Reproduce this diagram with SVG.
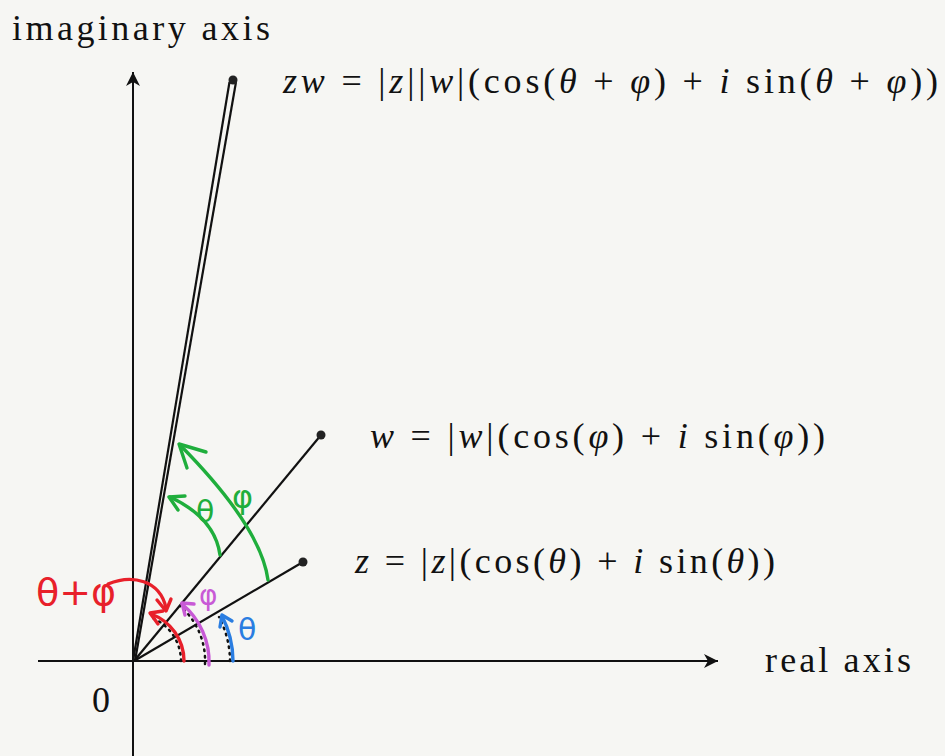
<svg xmlns="http://www.w3.org/2000/svg" width="945" height="756" viewBox="0 0 945 756">
<defs>
<style>
.t{font-family:"Liberation Serif","DejaVu Serif",serif;font-size:36px;fill:#111}
.i{font-style:italic}
.ax{stroke:#111;stroke-width:2;fill:none}
.ln{stroke:#111;stroke-width:2.2;fill:none}
.dot{fill:#222}
.hw{fill:none;stroke-width:3.4;stroke-linecap:round;stroke-linejoin:round}
.dotted{fill:none;stroke:#111;stroke-width:2.5;stroke-dasharray:1.5 5;stroke-linecap:round}
.hand{font-family:"DejaVu Sans","Noto Sans",sans-serif}
</style>
<marker id="ah" markerWidth="16" markerHeight="14" refX="14" refY="7" orient="auto" markerUnits="userSpaceOnUse">
<path d="M0,0 L14,7 L0,14 L4,7 Z" fill="#111"/>
</marker>
</defs>
<rect width="945" height="756" fill="#f6f6f3"/>
<g id="axes">
<line class="ax" x1="38" y1="661" x2="718" y2="661" marker-end="url(#ah)"/>
<line class="ax" x1="133" y1="756" x2="133" y2="72" marker-end="url(#ah)"/>
</g>
<g id="labels">
<text class="t" x="12" y="40" textLength="258" lengthAdjust="spacing">imaginary axis</text>
<text class="t" x="765" y="672" textLength="146" lengthAdjust="spacing">real axis</text>
<text class="t" x="92" y="712">0</text>
</g>
<g id="connectors">
<line class="ln" x1="134" y1="661" x2="303" y2="562"/>
<line class="ln" x1="134" y1="661" x2="321" y2="435"/>
<line class="ln" x1="133" y1="661" x2="229.5" y2="82"/>
<line class="ln" x1="135" y1="661" x2="236" y2="82"/>
</g>
<g id="z">
<circle class="dot" cx="303" cy="562" r="4.5"/>
<text class="t" x="355" y="573" textLength="420" lengthAdjust="spacing"><tspan class="i">z</tspan> = |<tspan class="i">z</tspan>|(cos(<tspan class="i">θ</tspan>) + <tspan class="i">i</tspan> sin(<tspan class="i">θ</tspan>))</text>
</g>
<g id="w">
<circle class="dot" cx="321" cy="435" r="4.5"/>
<text class="t" x="370" y="448" textLength="455" lengthAdjust="spacing"><tspan class="i">w</tspan> = |<tspan class="i">w</tspan>|(cos(<tspan class="i">φ</tspan>) + <tspan class="i">i</tspan> sin(<tspan class="i">φ</tspan>))</text>
</g>
<g id="zw">
<circle class="dot" cx="233" cy="80" r="4.5"/>
<text class="t" x="283" y="93" textLength="655" lengthAdjust="spacing"><tspan class="i">zw</tspan> = |<tspan class="i">z</tspan>||<tspan class="i">w</tspan>|(cos(<tspan class="i">θ</tspan> + <tspan class="i">φ</tspan>) + <tspan class="i">i</tspan> sin(<tspan class="i">θ</tspan> + <tspan class="i">φ</tspan>))</text>
</g>
<g id="green-theta">
<path class="hw" stroke="#1fae3c" d="M220,555 Q215,518 170,497"/>
<polyline class="hw" stroke="#1fae3c" points="178,510 169,497 185,496"/>
<text class="hand" x="196" y="522" font-size="30" fill="#1fae3c">θ</text>
</g>
<g id="green-phi">
<path class="hw" stroke="#1fae3c" d="M268,580 Q261,527 180,445"/>
<polyline class="hw" stroke="#1fae3c" points="187,468 179,444 206,452"/>
<text class="hand" x="232" y="508" font-size="32" fill="#1fae3c">φ</text>
</g>
<g id="blue-theta">
<path class="dotted" d="M230,661 A96,96 0 0 0 219,617"/>
<path class="hw" stroke="#2a7de1" d="M233,661 A99,99 0 0 0 222,616"/>
<polyline class="hw" stroke="#2a7de1" points="220,627 222,615 232,621"/>
<text class="hand" x="238" y="640" font-size="30" fill="#2a7de1">θ</text>
</g>
<g id="purple-phi">
<path class="dotted" d="M205,664 A72,72 0 0 0 180,606"/>
<path class="hw" stroke="#c85ad6" d="M209,665 A75,75 0 0 0 182,604"/>
<polyline class="hw" stroke="#c85ad6" points="185,615 182,603 194,604"/>
<text class="hand" x="199" y="605" font-size="28" fill="#c85ad6">φ</text>
</g>
<g id="red-sum">
<path class="dotted" d="M181,661 A47,47 0 0 0 150,617"/>
<path class="hw" stroke="#e8202a" d="M184,661 A50,50 0 0 0 151,614"/>
<polyline class="hw" stroke="#e8202a" points="158,624 150,613 163,611"/>
<path class="hw" stroke="#e8202a" d="M108,584 C132,574 160,580 166,608"/>
<polyline class="hw" stroke="#e8202a" points="157,600 166,611 171,599"/>
<text class="hand" x="36" y="605" font-size="38" fill="#e8202a">θ+φ</text>
</g>
</svg>
